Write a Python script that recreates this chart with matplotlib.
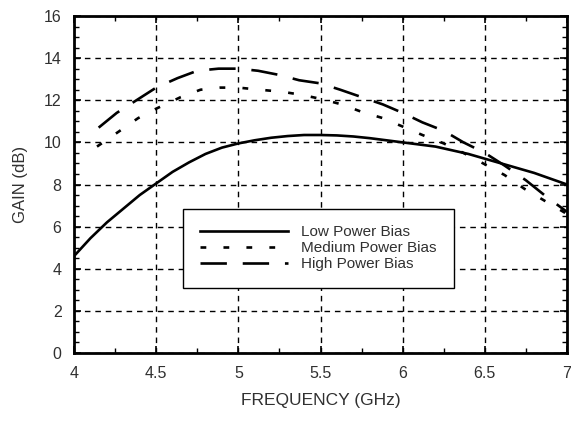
import matplotlib
matplotlib.use("Agg")
import matplotlib.pyplot as plt
from matplotlib.ticker import MultipleLocator

plt.rcParams['font.family'] = ['Liberation Sans', 'DejaVu Sans']

# frequency (GHz) / gain (dB)
low_x = [4.0, 4.1, 4.2, 4.3, 4.4, 4.5, 4.6, 4.7, 4.8, 4.9, 5.0, 5.1, 5.2, 5.3,
         5.4, 5.5, 5.6, 5.7, 5.8, 5.9, 6.0, 6.2, 6.4, 6.6, 6.8, 7.0]
low_y = [4.6, 5.45, 6.2, 6.85, 7.5, 8.05, 8.6, 9.05, 9.45, 9.75, 9.95, 10.1, 10.22, 10.3,
         10.35, 10.35, 10.33, 10.28, 10.2, 10.1, 10.0, 9.8, 9.45, 9.0, 8.55, 8.0]

med_x = [4.14, 4.27, 4.39, 4.5, 4.65, 4.77, 4.89, 5.0, 5.13, 5.27, 5.39, 5.51,
         5.63, 5.75, 5.88, 6.0, 6.12, 6.25, 6.37, 6.49, 6.62, 6.74, 6.87, 7.0]
med_y = [9.8, 10.5, 11.15, 11.6, 12.15, 12.5, 12.6, 12.6, 12.5, 12.4, 12.25, 12.05,
         11.8, 11.45, 11.15, 10.75, 10.35, 9.95, 9.5, 9.0, 8.45, 7.8, 7.2, 6.6]

high_x = [4.15, 4.26, 4.38, 4.5, 4.63, 4.75, 4.88, 5.0, 5.12, 5.25, 5.37, 5.5,
          5.62, 5.75, 5.88, 6.0, 6.12, 6.25, 6.37, 6.5, 6.62, 6.75, 6.87, 7.0]
high_y = [10.7, 11.4, 12.0, 12.6, 13.05, 13.4, 13.5, 13.5, 13.4, 13.2, 12.95, 12.8,
          12.5, 12.15, 11.8, 11.4, 10.95, 10.55, 10.0, 9.5, 8.9, 8.2, 7.45, 6.7]

labels = ["Low Power Bias", "Medium Power Bias", "High Power Bias"]
txt = '#303030'

fig = plt.figure(figsize=(5.71, 4.21), dpi=100)
ax = fig.add_axes([0.1296, 0.1615, 0.8634, 0.8005])

ax.plot(low_x, low_y, color='black', lw=1.9, label=labels[0])
ax.plot(med_x, med_y, color='black', lw=1.9, dashes=(2.2, 6.5), label=labels[1])
ax.plot(high_x, high_y, color='black', lw=1.9, dashes=(10, 6), label=labels[2])

ax.set_xlim(4, 7)
ax.set_ylim(0, 16)
ax.xaxis.set_minor_locator(MultipleLocator(0.25))
ax.yaxis.set_major_locator(MultipleLocator(2))
ax.yaxis.set_minor_locator(MultipleLocator(0.5))
ax.set_xticks([4, 4.5, 5, 5.5, 6, 6.5, 7])
ax.set_xticklabels(['4', '4.5', '5', '5.5', '6', '6.5', '7'])

ax.grid(True, which='major', color='black', lw=1.0, linestyle=(0, (4, 3.5)))
ax.tick_params(which='both', direction='in', top=True, right=True,
               colors='black', labelcolor=txt, labelsize=11.5)
ax.tick_params(which='major', length=5, width=1.2, pad=9)
ax.tick_params(which='minor', length=3.5, width=1.0)
for s in ax.spines.values():
    s.set_linewidth(2.0)

ax.set_xlabel('FREQUENCY (GHz)', fontsize=12.5, color=txt, labelpad=9)
ax.set_ylabel('GAIN (dB)', fontsize=12, color=txt, labelpad=11)

leg = ax.legend(loc='lower left', bbox_to_anchor=(0.221, 0.193), fontsize=11,
                handlelength=5.8, handletextpad=0.85, labelspacing=0.12,
                borderpad=1.1, fancybox=False, framealpha=1, borderaxespad=0)
leg.get_frame().set_edgecolor('black')
leg.get_frame().set_linewidth(1.0)
for t in leg.get_texts():
    t.set_color(txt)

fig.savefig('out.png', dpi=100)
